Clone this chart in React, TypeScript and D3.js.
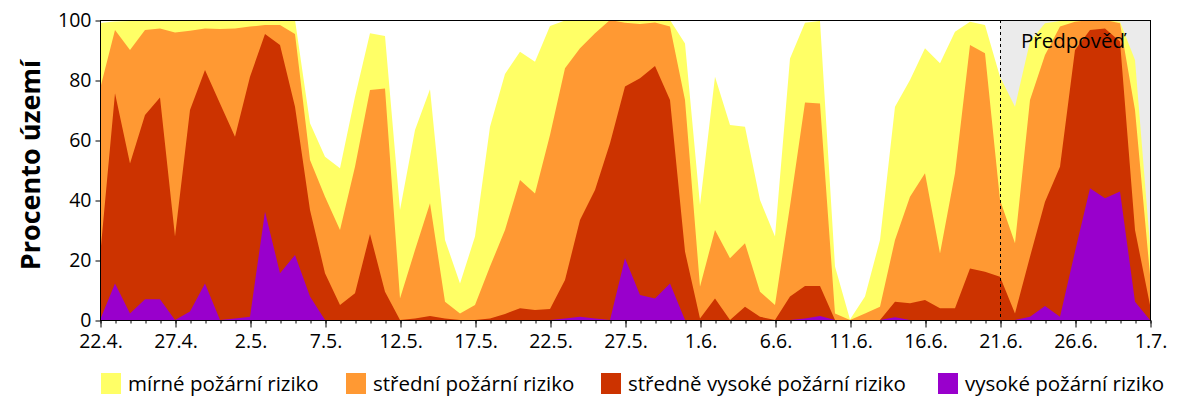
import React, { useEffect, useRef } from 'react';
import * as d3 from 'd3';

// days from 22.4. to 1.7. (index 0..70)
const tickLabels = ['22.4.', '27.4.', '2.5.', '7.5.', '12.5.', '17.5.', '22.5.', '27.5.', '1.6.', '6.6.', '11.6.', '16.6.', '21.6.', '26.6.', '1.7.'];

// cumulative percent of territory (each series includes the ones below it)
const mirne = [99, 99.5, 99.7, 99.8, 99.8, 99.7, 99.8, 99.8, 99.8, 99.8, 99.8, 99.9, 100, 100, 65.6, 54.4, 50.6, 74.4, 95.6, 94.7, 36.7, 63.3, 76.9, 26.7, 12.2, 27.8, 64.4, 82, 89.4, 86.1, 98, 99.8, 100, 100, 100, 100, 100, 100, 100, 92.2, 38.3, 81.1, 65, 64.4, 40, 27.8, 87.2, 99.1, 99.7, 17.8, 0.2, 7.8, 26.7, 71.1, 80, 90.6, 85.6, 96.1, 99.4, 98.3, 81.1, 71.1, 92.8, 98.9, 99.7, 100, 100, 100, 99.4, 86.7, 25];
const stredni = [77, 96.7, 90, 96.7, 97.2, 95.8, 96.4, 97.2, 97, 97.2, 97.8, 98.3, 98.3, 95.3, 53.3, 41.1, 30, 51.1, 76.7, 77.2, 7.2, 23.3, 38.9, 6.1, 2.2, 5, 17.8, 30, 46.7, 42.2, 61.7, 83.9, 90.6, 95.6, 100, 99.1, 98.7, 99.2, 97.8, 73.3, 11.1, 30, 20.6, 25.6, 9.4, 5, 38, 72.5, 72.2, 2.2, 0, 2.2, 4.4, 26.7, 41.1, 48.9, 22.2, 48.9, 91.7, 88.9, 40, 25.6, 73.3, 88.3, 97.8, 99.4, 100, 100, 98.9, 70, 15];
const stredneVysoke = [21, 75.6, 52.2, 68.3, 74.2, 27.8, 70, 83.3, 72.2, 61.1, 81.1, 95.3, 91.7, 71.1, 36.7, 15.6, 5, 8.9, 28.7, 9.4, 0, 0.5, 1.3, 0.5, 0, 0, 0.5, 2, 3.9, 3.3, 3.7, 13.3, 33.3, 43.3, 58.9, 77.8, 80.6, 84.7, 73.3, 22.8, 0.5, 7.2, 0, 4.4, 1.1, 0, 7.8, 11.3, 11.3, 0, 0, 0, 0, 6.1, 5.6, 6.7, 3.9, 3.9, 17.2, 16.1, 14.4, 2.2, 21.1, 39.4, 51.1, 90, 96.7, 97.2, 92.8, 30, 5];
const vysoke = [0, 12.2, 2.2, 6.9, 6.9, 0, 2.8, 12.2, 0, 0.5, 1.1, 36.1, 15.6, 21.7, 7.8, 0, 0, 0, 0, 0, 0, 0, 0, 0, 0, 0, 0, 0, 0, 0, 0, 0.5, 1.1, 0.5, 0, 20.6, 8.3, 7.2, 12.2, 0, 0, 0, 0, 0, 0, 0, 0, 0.5, 1.3, 0, 0, 0, 0, 0.9, 0, 0, 0, 0, 0, 0, 0, 0, 1.1, 4.7, 1.1, 22.8, 43.9, 40.6, 42.8, 6.1, 0];

const series = [
  { label: 'mírné požární riziko', color: '#FFFF66', values: mirne },
  { label: 'střední požární riziko', color: '#FF9933', values: stredni },
  { label: 'středně vysoké požární riziko', color: '#CC3300', values: stredneVysoke },
  { label: 'vysoké požární riziko', color: '#9900CC', values: vysoke }
];

const forecastStart = 60; // 21.6.
const font = '"Open Sans", sans-serif';

const FireRiskChart = () => {
  const svgRef = useRef(null);

  useEffect(() => {
    const width = 1200;
    const height = 400;
    const margin = { top: 20, right: 50, bottom: 80, left: 100 };
    const nDays = mirne.length - 1;

    d3.select(svgRef.current).selectAll('*').remove();

    const svg = d3.select(svgRef.current)
      .attr('width', width)
      .attr('height', height)
      .style('font-family', font);

    const xScale = d3.scaleLinear()
      .domain([0, nDays])
      .range([margin.left, width - margin.right]);

    const yScale = d3.scaleLinear()
      .domain([0, 100])
      .range([height - margin.bottom, margin.top]);

    // forecast background
    svg.append('rect')
      .attr('x', xScale(forecastStart))
      .attr('y', yScale(100))
      .attr('width', xScale(nDays) - xScale(forecastStart))
      .attr('height', yScale(0) - yScale(100))
      .attr('fill', '#EBEBEB');

    // areas, drawn from 0 and overlapping
    const area = d3.area<number>()
      .x((_, i) => xScale(i))
      .y0(yScale(0))
      .y1(d => yScale(d));

    series.forEach(s => {
      svg.append('path')
        .datum(s.values)
        .attr('d', area)
        .attr('fill', s.color);
    });

    // forecast divider
    svg.append('line')
      .attr('x1', xScale(forecastStart) + 0.5)
      .attr('x2', xScale(forecastStart) + 0.5)
      .attr('y1', yScale(100))
      .attr('y2', yScale(0))
      .attr('stroke', '#000')
      .attr('stroke-dasharray', '3,3');

    svg.append('text')
      .attr('x', xScale(forecastStart) + 21)
      .attr('y', 48)
      .style('font-size', '20.5px')
      .attr('fill', '#000')
      .text('Předpověď');

    // frame
    svg.append('rect')
      .attr('x', margin.left + 0.5)
      .attr('y', margin.top + 0.5)
      .attr('width', width - margin.left - margin.right)
      .attr('height', height - margin.top - margin.bottom)
      .attr('fill', 'none')
      .attr('stroke', '#000');

    // x axis: minor ticks every day, labels every 5 days
    const xAxisG = svg.append('g')
      .attr('transform', `translate(0.5,${height - margin.bottom + 0.5})`);
    xAxisG.call(d3.axisBottom(xScale).tickValues(d3.range(0, nDays + 1)).tickSize(3).tickFormat(() => ''));
    xAxisG.append('g').call(
      d3.axisBottom(xScale)
        .tickValues(d3.range(0, nDays + 1, 5))
        .tickSize(7)
        .tickFormat((d, i) => tickLabels[i])
    );
    xAxisG.selectAll('.domain').remove();
    xAxisG.selectAll('text')
      .attr('y', 14)
      .style('font-size', '19.5px')
      .style('font-family', font)
      .attr('fill', '#000');

    // y axis
    const yAxisG = svg.append('g')
      .attr('transform', `translate(${margin.left + 0.5},0.5)`)
      .call(d3.axisLeft(yScale).tickValues([0, 20, 40, 60, 80, 100]).tickSize(5).tickPadding(4));
    yAxisG.selectAll('.domain').remove();
    yAxisG.selectAll('text')
      .style('font-size', '19.5px')
      .style('font-family', font)
      .attr('fill', '#000');

    svg.append('text')
      .attr('transform', `translate(40,${(margin.top + height - margin.bottom) / 2 - 5}) rotate(-90)`)
      .attr('text-anchor', 'middle')
      .style('font-size', '27px')
      .style('font-weight', 'bold')
      .text('Procento území');

    // legend
    const legendX = [101, 346, 601, 938];
    series.forEach((s, i) => {
      const g = svg.append('g').attr('transform', `translate(${legendX[i]},373)`);
      g.append('rect').attr('width', 20).attr('height', 21).attr('fill', s.color);
      g.append('text')
        .attr('x', 27)
        .attr('y', 18)
        .style('font-size', '20.5px')
        .text(s.label);
    });
  }, []);

  return (
    <svg ref={svgRef} style={{ position: 'absolute', left: 0, top: 0 }}></svg>
  );
};

export default function App() {
  return <FireRiskChart />;
}
